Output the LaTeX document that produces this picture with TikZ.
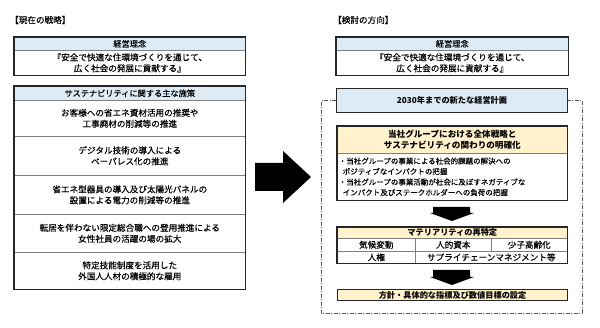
\documentclass[tikz,border=0pt]{standalone}
\usepackage{fontspec}
\setmainfont{Noto Sans CJK JP}[UprightFeatures={FakeBold=0.35}]
\definecolor{hblue}{HTML}{DDEBF7}
\definecolor{hyel}{HTML}{FFF2CC}
\definecolor{sepc}{HTML}{7F7F7F}
\definecolor{framec}{HTML}{262626}
\definecolor{dashc}{HTML}{595959}
\newcommand\fsn{\fontsize{8.6}{11}\selectfont}
\newcommand\fsh{\fontsize{8.2}{10}\selectfont}
\newcommand\fss{\fontsize{7.5}{10.5}\selectfont}
\begin{document}
\begin{tikzpicture}[x=1pt,y=-1pt,
  cell/.style n args={2}{anchor=north west, inner sep=0pt, minimum width=#1pt, minimum height=#2pt, align=center, font=\fsn, draw=sepc, line width=0.6pt},
  frame/.style={draw=framec, line width=1.1pt},
  dashframe/.style={draw=dashc, line width=0.7pt, dash pattern=on 4pt off 1.5pt on 1pt off 1.5pt},
  title/.style={anchor=west, inner sep=0pt, font=\fsn},
  blockarrow/.style={fill=black, draw=none}]
\useasboundingbox (0,0) rectangle (600,328);
\fill[white] (0,0) rectangle (600,328);

% ---------- left ----------
\node[title] (ltitle) at (10,20) {【現在の戦略】};

\node[cell={231}{13}, fill=hblue, font=\fsh] (lh1) at (14,37) {経営理念};
\node[cell={231}{25}] (lb1) at (14,50) {『安全で快適な住環境づくりを通じて、\\広く社会の発展に貢献する』};
\draw[frame] (lh1.north west) rectangle (lb1.south east);

\node[cell={231}{14}, fill=hblue, font=\fsh] (lh2) at (14,86) {サステナビリティに関する主な施策};
\node[cell={231}{36}] (r1) at (14,100) {お客様への省エネ資材活用の推奨や\\工事廃材の削減等の推進};
\node[cell={231}{39}] (r2) at (14,136) {デジタル技術の導入による\\ペーパレス化の推進};
\node[cell={231}{39}] (r3) at (14,175) {省エネ型器具の導入及び太陽光パネルの\\設置による電力の削減等の推進};
\node[cell={231}{38}] (r4) at (14,214) {転居を伴わない限定総合職への登用推進による\\女性社員の活躍の場の拡大};
\node[cell={231}{37}] (r5) at (14,252) {特定技能制度を活用した\\外国人人材の積極的な雇用};
\draw[frame] (lh2.north west) rectangle (r5.south east);

% big arrow
\fill[blockarrow] (255,163) -- (283,163) -- (283,151) -- (311,177) -- (283,203) -- (283,191) -- (255,191) -- cycle;

% ---------- right ----------
\node[title] (rtitle) at (333,20) {【検討の方向】};

\node[cell={232}{13}, fill=hblue, font=\fsh] (rh1) at (336,37) {経営理念};
\node[cell={232}{25}] (rb1) at (336,50) {『安全で快適な住環境づくりを通じて、\\広く社会の発展に貢献する』};
\draw[frame] (rh1.north west) rectangle (rb1.south east);

\node[cell={231}{24}, fill=hblue, font=\fsh\bfseries, draw=framec, line width=1.1pt] (plan) at (336,88) {2030年までの新たな経営計画};

\coordinate (dbl) at (321,313);
\coordinate (dbr) at (582,313);
\draw[dashframe] (plan.west) -| (dbl) -- (dbr) |- (plan.east);

\node[cell={230}{27}, fill=hyel, font=\fsn\bfseries] (sh) at (337,126) {当社グループにおける全体戦略と\\サステナビリティの関わりの明確化};
\node[cell={230}{47}, font=\fss, align=left, text width=227pt, inner xsep=1.5pt] (sb) at (337,153) {・当社グループの事業による社会的課題の解決への\\\hspace*{4pt}ポジティブなインパクトの把握\\・当社グループの事業活動が社会に及ぼすネガティブな\\\hspace*{4pt}インパクト及びステークホルダーへの負荷の把握};
\draw[frame] (sh.north west) rectangle (sb.south east);

% arrow 1
\fill[blockarrow] (433,207) -- (470,207) -- (470,213) -- (474,213) -- (452,221) -- (430,213) -- (433,213) -- cycle;

\node[cell={230}{11}, fill=hyel, font=\fsh\bfseries] (mh) at (337,227) {マテリアリティの再特定};
\node[cell={78}{13}] (m11) at (337,238) {気候変動};
\node[cell={76}{13}] (m12) at (415,238) {人的資本};
\node[cell={76}{13}] (m13) at (491,238) {少子高齢化};
\node[cell={78}{12}] (m21) at (337,251) {人権};
\node[cell={152}{12}] (m22) at (415,251) {サプライチェーンマネジメント等};
\draw[frame] (mh.north west) rectangle (m22.south east);

% arrow 2
\fill[blockarrow] (433,270) -- (470,270) -- (470,277) -- (474,277) -- (452,285) -- (430,277) -- (433,277) -- cycle;

\node[cell={230}{11}, fill=hyel, font=\fsh\bfseries, draw=framec, line width=1.1pt] (pol) at (337,289) {方針・具体的な指標及び数値目標の設定};
\end{tikzpicture}
\end{document}
